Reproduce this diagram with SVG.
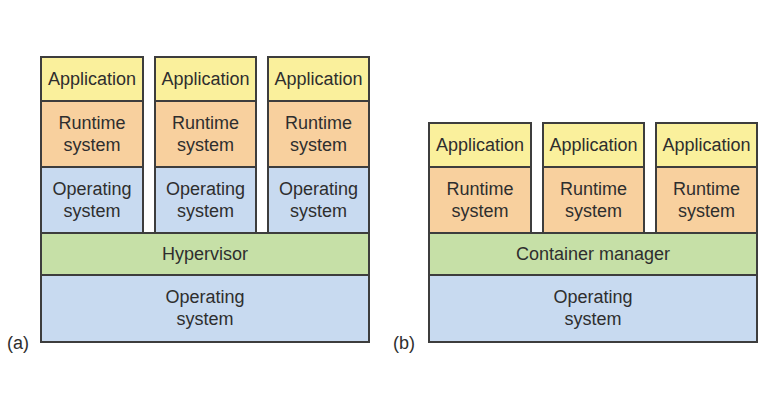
<svg xmlns="http://www.w3.org/2000/svg" width="770" height="400" viewBox="0 0 770 400">
<style>
.b{stroke:#3d3d3d;stroke-width:2}
.app{fill:#faf09c}
.rt{fill:#f8d09e}
.os{fill:#c8daf0}
.mgr{fill:#c6e0a7}
text{font-family:"Liberation Sans",Arial,sans-serif;font-size:18px;fill:#2e2e2e;text-anchor:middle}
.lbl{text-anchor:start}
</style>
<rect x="0" y="0" width="770" height="400" fill="#fff"/>
<g id="a-col1">
<rect class="b app" x="41" y="57" width="102" height="44"/><text x="92" y="85">Application</text>
<rect class="b rt" x="41" y="101" width="102" height="66"/><text x="92" y="129">Runtime</text><text x="92" y="151">system</text>
<rect class="b os" x="41" y="167" width="102" height="66"/><text x="92" y="195">Operating</text><text x="92" y="217">system</text>
</g>
<g id="a-col2">
<rect class="b app" x="155" y="57" width="101" height="44"/><text x="205.5" y="85">Application</text>
<rect class="b rt" x="155" y="101" width="101" height="66"/><text x="205.5" y="129">Runtime</text><text x="205.5" y="151">system</text>
<rect class="b os" x="155" y="167" width="101" height="66"/><text x="205.5" y="195">Operating</text><text x="205.5" y="217">system</text>
</g>
<g id="a-col3">
<rect class="b app" x="268" y="57" width="101" height="44"/><text x="318.5" y="85">Application</text>
<rect class="b rt" x="268" y="101" width="101" height="66"/><text x="318.5" y="129">Runtime</text><text x="318.5" y="151">system</text>
<rect class="b os" x="268" y="167" width="101" height="66"/><text x="318.5" y="195">Operating</text><text x="318.5" y="217">system</text>
</g>
<g id="a-hypervisor">
<rect class="b mgr" x="41" y="233" width="328" height="42"/><text x="205" y="260">Hypervisor</text>
</g>
<g id="a-os">
<rect class="b os" x="41" y="275" width="328" height="67"/><text x="205" y="303">Operating</text><text x="205" y="325">system</text>
</g>
<text class="lbl" x="7" y="349">(a)</text>

<g id="b-col1">
<rect class="b app" x="429" y="123" width="102" height="44"/><text x="480" y="151">Application</text>
<rect class="b rt" x="429" y="167" width="102" height="66"/><text x="480" y="195">Runtime</text><text x="480" y="217">system</text>
</g>
<g id="b-col2">
<rect class="b app" x="543" y="123" width="101" height="44"/><text x="593.5" y="151">Application</text>
<rect class="b rt" x="543" y="167" width="101" height="66"/><text x="593.5" y="195">Runtime</text><text x="593.5" y="217">system</text>
</g>
<g id="b-col3">
<rect class="b app" x="656" y="123" width="101" height="44"/><text x="706.5" y="151">Application</text>
<rect class="b rt" x="656" y="167" width="101" height="66"/><text x="706.5" y="195">Runtime</text><text x="706.5" y="217">system</text>
</g>
<g id="b-manager">
<rect class="b mgr" x="429" y="233" width="328" height="42"/><text x="593" y="260">Container manager</text>
</g>
<g id="b-os">
<rect class="b os" x="429" y="275" width="328" height="67"/><text x="593" y="303">Operating</text><text x="593" y="325">system</text>
</g>
<text class="lbl" x="393" y="349">(b)</text>
<g id="connectors"/>
</svg>
